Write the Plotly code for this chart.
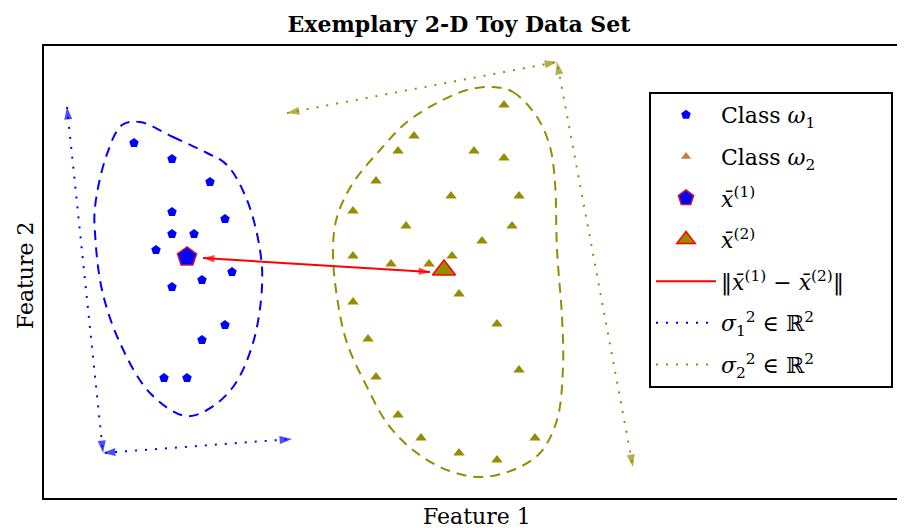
import plotly.graph_objects as go

# ---------------- data ----------------
c1_x = [134, 172, 210, 172, 225, 172, 194, 156, 232, 202, 172, 225, 202, 164, 187]
c1_y = [357, 341, 318, 288, 281, 266, 266, 250, 228, 220, 213, 175, 160, 122, 122]

c2_x = [504, 414, 398, 474, 504, 376, 451, 519, 353, 406, 512, 482, 353, 391, 429,
        452, 459, 353, 497, 368, 376, 519, 398, 421, 535, 459, 497]
c2_y = [395, 364, 349, 349, 342, 319, 304, 304, 289, 274, 274, 259, 244, 236, 236,
        244, 206, 198, 176, 161, 123, 130, 85, 62, 62, 47, 40]

mean1 = (187, 243)
mean2 = (444, 230)

hull1_x = [140, 173, 207, 227, 247, 260, 262, 253, 233, 207, 185, 150, 120, 102, 95, 95, 106, 122, 140]
hull1_y = [378, 363, 347, 335, 300, 250, 213, 157, 113, 90, 84, 107, 157, 210, 267, 293, 343, 375, 378]

hull2_x = [493, 513, 537, 550, 555, 557, 562, 563, 557, 540, 513, 480, 447, 413, 387, 367,
           347, 337, 333, 337, 353, 380, 407, 437, 467, 493]
hull2_y = [413, 408, 383, 353, 317, 250, 183, 133, 80, 47, 30, 23, 30, 50, 77, 113,
           157, 203, 250, 283, 317, 350, 378, 397, 410, 413]

# variance arrows (corner-shaped, dotted, heads at every end)
var1_x = [67, 103, 292]
var1_y = [393, 47, 61]
var2_x = [287, 557, 633]
var2_y = [387, 438, 33]

# distance arrow between the class means (tips)
dist_x = [203, 430]
dist_y = [242, 228]

labels = {
    "c1": "Class <i>ω</i><sub>1</sub>",
    "c2": "Class <i>ω</i><sub>2</sub>",
    "m1": "<i>x̄</i><sup>(1)</sup>",
    "m2": "<i>x̄</i><sup>(2)</sup>",
    "dist": "‖<i>x̄</i><sup>(1)</sup> − <i>x̄</i><sup>(2)</sup>‖\u00a0\u00a0\u00a0\u00a0\u00a0\u00a0",
    "v1": "<i>σ</i><sub>1</sub><sup>2</sup> ∈ ℝ<sup>2</sup>",
    "v2": "<i>σ</i><sub>2</sub><sup>2</sup> ∈ ℝ<sup>2</sup>",
}

BLUE = "#0000ff"
OLIVE = "#968c00"
BROWN = "#bf8040"
RED = "#ff0000"
FONT = "DejaVu Serif"

# the page body has an 8px margin; compensate so the picture lands at the reference spot
OFF = 8
W, H = 905 - OFF, 528 - OFF
PL, PT, PB = 44 - OFF, 46 - OFF, 30  # plot area: x 44..905, y 46..498 in window pixels

fig = go.Figure()

# contours (no legend)
fig.add_trace(go.Scatter(x=hull1_x, y=hull1_y, mode="lines", showlegend=False, hoverinfo="skip",
                         line=dict(color=BLUE, width=2, dash="10px,7px", shape="spline", smoothing=1.0)))
fig.add_trace(go.Scatter(x=hull2_x, y=hull2_y, mode="lines", showlegend=False, hoverinfo="skip",
                         line=dict(color=OLIVE, width=2, dash="10px,7px", shape="spline", smoothing=1.0)))

# class 1
fig.add_trace(go.Scatter(x=c1_x, y=c1_y, mode="markers", name=labels["c1"], legendgroup="a",
                         marker=dict(symbol="pentagon", size=10, color=BLUE, line=dict(width=0))))
# class 2 (plot) + legend proxy in brown
fig.add_trace(go.Scatter(x=c2_x, y=c2_y, mode="markers", showlegend=False,
                         marker=dict(symbol="triangle-up", size=10, color=OLIVE, line=dict(width=0))))
fig.add_trace(go.Scatter(x=[None], y=[None], mode="markers", name=labels["c2"], legendgroup="b",
                         marker=dict(symbol="triangle-up", size=9, color=BROWN, line=dict(width=0))))

# means
fig.add_trace(go.Scatter(x=[mean1[0]], y=[mean1[1]], mode="markers", name=labels["m1"], legendgroup="c",
                         marker=dict(symbol="pentagon", size=20, color=BLUE, line=dict(width=1.5, color="#d0103a"))))
fig.add_trace(go.Scatter(x=[mean2[0]], y=[mean2[1]], mode="markers", name=labels["m2"], legendgroup="d",
                         marker=dict(symbol="triangle-up", size=20, color=OLIVE, line=dict(width=1.5, color=RED))))

# distance line
fig.add_trace(go.Scatter(x=dist_x, y=dist_y, mode="lines", name=labels["dist"], legendgroup="e",
                         line=dict(color=RED, width=2)))

# variance arrows
fig.add_trace(go.Scatter(x=var1_x, y=var1_y, mode="lines", name=labels["v1"], legendgroup="f",
                         line=dict(color=BLUE, width=2, dash="2px,8px")))
fig.add_trace(go.Scatter(x=var2_x, y=var2_y, mode="lines", name=labels["v2"], legendgroup="g",
                         line=dict(color=OLIVE, width=2, dash="2px,8px")))


def heads(xs, ys, color, size):
    # arrowheads at both ends of every segment of a polyline (marker oriented along the segment)
    for i in range(len(xs) - 1):
        for a, b in ((i, i + 1), (i + 1, i)):
            fig.add_trace(go.Scatter(
                x=[xs[a], xs[b]], y=[ys[a], ys[b]], mode="markers", showlegend=False, hoverinfo="skip",
                marker=dict(symbol="arrow", angleref="previous", size=[0, size], color=color,
                            line=dict(width=0))))


heads(var1_x, var1_y, BLUE, 13)
heads(var2_x, var2_y, OLIVE, 13)
heads(dist_x, dist_y, RED, 12)

# axis titles
fig.add_annotation(text="Feature 1", xref="paper", yref="paper", x=(477 - 44) / 861, y=-0.042,
                   showarrow=False, font=dict(family=FONT, size=22, color="black"),
                   xanchor="center", yanchor="middle")
fig.add_annotation(text="Feature 2", xref="paper", yref="paper", x=(25 - 44) / 861, y=0.493,
                   showarrow=False, textangle=-90, font=dict(family=FONT, size=22, color="black"),
                   xanchor="center", yanchor="middle")

fig.update_layout(
    width=W, height=H,
    margin=dict(l=PL, r=0, t=PT, b=PB, pad=0),
    plot_bgcolor="white", paper_bgcolor="white",
    title=dict(text="<b>Exemplary 2-D Toy Data Set</b>", x=(459 - OFF) / W, y=1 - (24 - OFF) / H,
               xanchor="center", yanchor="middle",
               font=dict(family=FONT, size=22, color="black")),
    xaxis=dict(range=[44, 905], showgrid=False, zeroline=False, showticklabels=False, ticks="",
               showline=True, mirror=True, linecolor="black", linewidth=2),
    yaxis=dict(range=[2, 454], showgrid=False, zeroline=False, showticklabels=False, ticks="",
               showline=True, mirror=False, linecolor="black", linewidth=2),
    legend=dict(x=(649 - 44) / 861, y=1 - (92 - 46) / 452, xanchor="left", yanchor="top",
                bordercolor="black", borderwidth=2, bgcolor="white",
                font=dict(family=FONT, size=22, color="black"),
                tracegroupgap=10, traceorder="grouped", itemsizing="trace", itemwidth=60),
    showlegend=True,
)

fig.write_html("out.html")
